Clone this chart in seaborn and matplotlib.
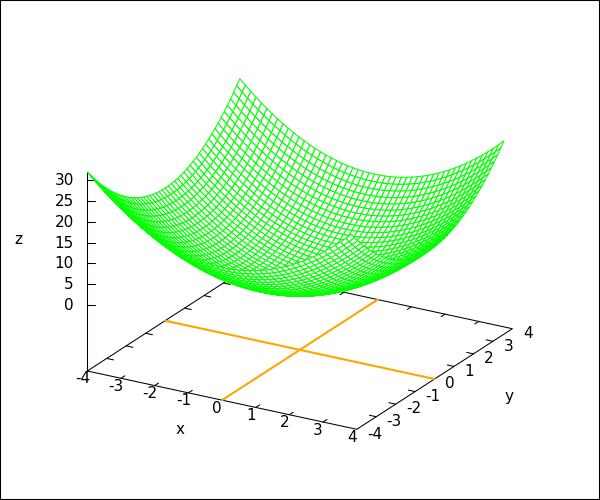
# gnuplot style wire mesh, drawn flat with seaborn after projecting to the canvas
import pandas as pd
import matplotlib
matplotlib.use('Agg')
import matplotlib.pyplot as plt
from matplotlib.collections import PolyCollection
import seaborn as sns

# =========================================================
# DATA
# =========================================================

# mesh lines along each axis
mesh_levels = [-4.0, -3.84, -3.68, -3.52, -3.36, -3.2, -3.04, -2.88, -2.72, -2.56,
               -2.4, -2.24, -2.08, -1.92, -1.76, -1.6, -1.44, -1.28, -1.12, -0.96,
               -0.8, -0.64, -0.48, -0.32, -0.16, 0.0, 0.16, 0.32, 0.48, 0.64,
               0.8, 0.96, 1.12, 1.28, 1.44, 1.6, 1.76, 1.92, 2.08, 2.24,
               2.4, 2.56, 2.72, 2.88, 3.04, 3.2, 3.36, 3.52, 3.68, 3.84]

# height each level adds to the bowl (same curve in x and in y)
mesh_rise = [16.0, 14.75, 13.54, 12.39, 11.29, 10.24, 9.24, 8.29, 7.4, 6.55,
             5.76, 5.02, 4.33, 3.69, 3.1, 2.56, 2.07, 1.64, 1.25, 0.92,
             0.64, 0.41, 0.23, 0.1, 0.03, 0.0, 0.03, 0.1, 0.23, 0.41,
             0.64, 0.92, 1.25, 1.64, 2.07, 2.56, 3.1, 3.69, 4.33, 5.02,
             5.76, 6.55, 7.4, 8.29, 9.24, 10.24, 11.29, 12.39, 13.54, 14.75]

xy_ticks = [-4, -3, -2, -1, 0, 1, 2, 3, 4]
xy_tick_labels = ['-4', '-3', '-2', '-1', '0', '1', '2', '3', '4']
z_ticks = [0, 5, 10, 15, 20, 25, 30]
z_tick_labels = ['0', '5', '10', '15', '20', '25', '30']

xy_low = -4
xy_high = 4
z_floor = -16
z_top = 32
tick_size = 0.2

# =========================================================
# PROJECTION
# =========================================================

def project(x, y, z):
    px = 299.85 + 33.68 * x + 19.45 * y
    py = 349.85 + 7.29 * x - 12.575 * y - 4.144 * (z - z_floor)
    return px, py


# how close a point is to the viewer, for hidden lines
def depth(x, y, z):
    return 0.433 * x / 4 - 0.75 * y / 4 + 0.5 * (z - 8) / 24


def segments(lines):
    rows = []
    for n, line in enumerate(lines):
        for x, y, z in line:
            px, py = project(x, y, z)
            rows.append({'line': n, 'px': px, 'py': py})
    return pd.DataFrame(rows)


def draw(lines, color, width):
    sns.lineplot(data=segments(lines), x='px', y='py', units='line',
                 estimator=None, sort=False, color=color, linewidth=width,
                 legend=False, ax=ax)


# =========================================================
# FIGURE
# =========================================================

sns.set_theme(style='white')
plt.rcParams['font.family'] = ['DejaVu Sans']

fig = plt.figure(figsize=(6, 5), dpi=100)
ax = fig.add_axes([0, 0, 1, 1])

# base frame and z axis go under the mesh
frame = [
    [(xy_low, xy_low, z_floor), (xy_high, xy_low, z_floor), (xy_high, xy_high, z_floor),
     (xy_low, xy_high, z_floor), (xy_low, xy_low, z_floor)],
    [(xy_low, xy_low, z_floor), (xy_low, xy_low, z_top)],
]
for t in xy_ticks[1:-1]:
    frame.append([(t, xy_low, z_floor), (t, xy_low + tick_size, z_floor)])
    frame.append([(t, xy_high, z_floor), (t, xy_high - tick_size, z_floor)])
    frame.append([(xy_low, t, z_floor), (xy_low + tick_size, t, z_floor)])
    frame.append([(xy_high, t, z_floor), (xy_high - tick_size, t, z_floor)])
draw(frame, 'black', 0.75)

# z ticks
for t, label in zip(z_ticks, z_tick_labels):
    px, py = project(xy_low, xy_low, t)
    ax.plot([px, px + 8], [py, py], color='black', lw=0.75)
    ax.text(px - 13.5, py + 0.5, label, ha='right', va='center', fontsize=11, color='black')

# cross on the floor
cross = [
    [(0, xy_low, z_floor), (0, xy_high, z_floor)],
    [(xy_low, 0, z_floor), (xy_high, 0, z_floor)],
]
draw(cross, '#ffa500', 1.5)

# mesh cells, far ones first so the near ones hide them
cells = []
for i in range(len(mesh_levels) - 1):
    for j in range(len(mesh_levels) - 1):
        corners = [(i, j), (i + 1, j), (i + 1, j + 1), (i, j + 1)]
        points = [(mesh_levels[a], mesh_levels[b], mesh_rise[a] + mesh_rise[b]) for a, b in corners]
        near = sum(depth(*p) for p in points) / 4
        cells.append((near, [project(*p) for p in points]))
cells.sort(key=lambda c: c[0])

ax.add_collection(PolyCollection([c[1] for c in cells], facecolors='white',
                                 edgecolors='#00ff00', linewidths=0.75, zorder=3))

# x and y tick labels
for t, label in zip(xy_ticks, xy_tick_labels):
    px, py = project(t, xy_low, z_floor)
    ax.text(px - 5, py + 8, label, ha='center', va='center', fontsize=11, color='black')
    px, py = project(xy_high, t, z_floor)
    ax.text(px + 10.5, py + 4.8, label, ha='left', va='center', fontsize=11, color='black')

# axis titles
ax.text(180, 429, 'x', ha='center', va='center', fontsize=11, color='black')
ax.text(509, 396, 'y', ha='center', va='center', fontsize=11, color='black')
ax.text(18, 239, 'z', ha='center', va='center', fontsize=11, color='black')

ax.set_xlim(0, 600)
ax.set_ylim(500, 0)
ax.set_xticks([])
ax.set_yticks([])
ax.set_xlabel('')
ax.set_ylabel('')
for spine in ax.spines.values():
    spine.set_visible(True)
    spine.set_color('black')
    spine.set_linewidth(1.5)

fig.savefig('out.png', dpi=100)
